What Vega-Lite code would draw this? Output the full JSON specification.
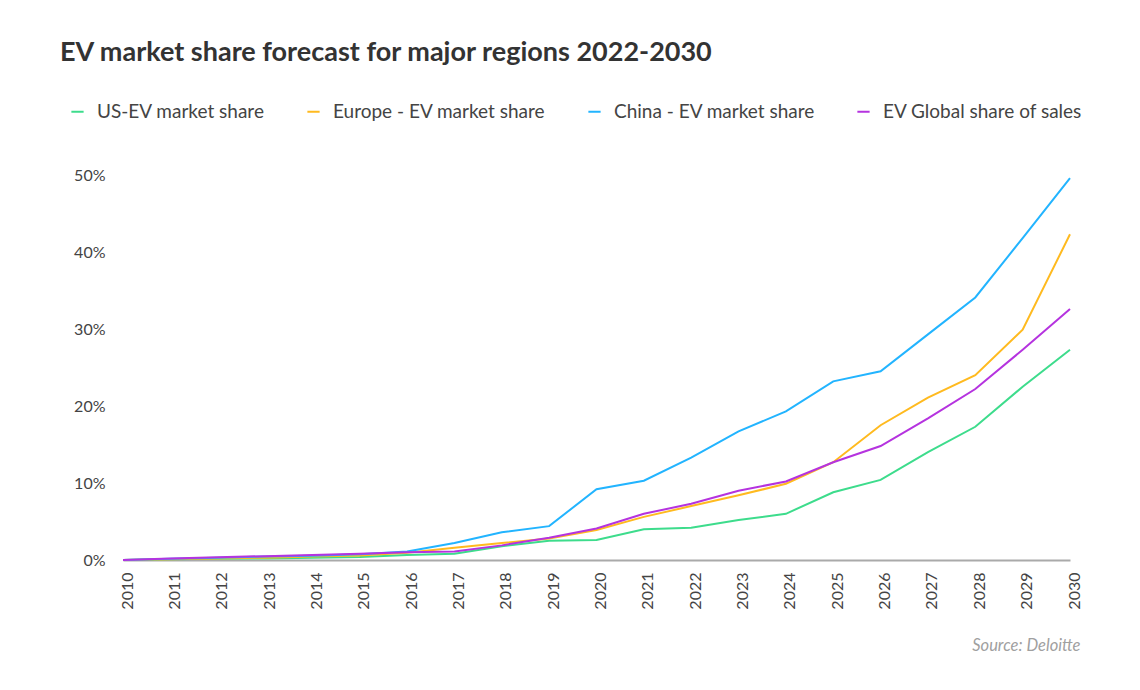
{
  "$schema": "https://vega.github.io/schema/vega-lite/v6.json",
  "width": 947,
  "height": 385,
  "autosize": {"type": "none"},
  "padding": {"left": 123, "top": 175, "right": 70, "bottom": 130},
  "background": "white",
  "config": {
    "font": "Lato",
    "view": {"stroke": null}
  },
  "title": {
    "text": "EV market share forecast for major regions 2022-2030",
    "anchor": "start",
    "frame": "group",
    "dx": -63,
    "fontSize": 27,
    "fontWeight": "bold",
    "color": "#333333",
    "offset": 35
  },
  "data": {
    "values": [
      {"year": 2010, "series": "US-EV market share", "value": 0},
      {"year": 2011, "series": "US-EV market share", "value": 0.1},
      {"year": 2012, "series": "US-EV market share", "value": 0.15},
      {"year": 2013, "series": "US-EV market share", "value": 0.2},
      {"year": 2014, "series": "US-EV market share", "value": 0.3},
      {"year": 2015, "series": "US-EV market share", "value": 0.4},
      {"year": 2016, "series": "US-EV market share", "value": 0.65},
      {"year": 2017, "series": "US-EV market share", "value": 0.8},
      {"year": 2018, "series": "US-EV market share", "value": 1.8},
      {"year": 2019, "series": "US-EV market share", "value": 2.5},
      {"year": 2020, "series": "US-EV market share", "value": 2.6},
      {"year": 2021, "series": "US-EV market share", "value": 4.0},
      {"year": 2022, "series": "US-EV market share", "value": 4.2},
      {"year": 2023, "series": "US-EV market share", "value": 5.2},
      {"year": 2024, "series": "US-EV market share", "value": 6.0},
      {"year": 2025, "series": "US-EV market share", "value": 8.8},
      {"year": 2026, "series": "US-EV market share", "value": 10.4},
      {"year": 2027, "series": "US-EV market share", "value": 14.0},
      {"year": 2028, "series": "US-EV market share", "value": 17.3},
      {"year": 2029, "series": "US-EV market share", "value": 22.5},
      {"year": 2030, "series": "US-EV market share", "value": 27.3},
      {"year": 2010, "series": "Europe - EV market share", "value": 0},
      {"year": 2011, "series": "Europe - EV market share", "value": 0.1},
      {"year": 2012, "series": "Europe - EV market share", "value": 0.2},
      {"year": 2013, "series": "Europe - EV market share", "value": 0.3},
      {"year": 2014, "series": "Europe - EV market share", "value": 0.45},
      {"year": 2015, "series": "Europe - EV market share", "value": 0.6},
      {"year": 2016, "series": "Europe - EV market share", "value": 0.95},
      {"year": 2017, "series": "Europe - EV market share", "value": 1.6},
      {"year": 2018, "series": "Europe - EV market share", "value": 2.2},
      {"year": 2019, "series": "Europe - EV market share", "value": 2.8},
      {"year": 2020, "series": "Europe - EV market share", "value": 3.9},
      {"year": 2021, "series": "Europe - EV market share", "value": 5.6},
      {"year": 2022, "series": "Europe - EV market share", "value": 7.0},
      {"year": 2023, "series": "Europe - EV market share", "value": 8.4},
      {"year": 2024, "series": "Europe - EV market share", "value": 9.9},
      {"year": 2025, "series": "Europe - EV market share", "value": 12.7},
      {"year": 2026, "series": "Europe - EV market share", "value": 17.5},
      {"year": 2027, "series": "Europe - EV market share", "value": 21.1},
      {"year": 2028, "series": "Europe - EV market share", "value": 24.0},
      {"year": 2029, "series": "Europe - EV market share", "value": 29.9},
      {"year": 2030, "series": "Europe - EV market share", "value": 42.3},
      {"year": 2010, "series": "China - EV market share", "value": 0},
      {"year": 2011, "series": "China - EV market share", "value": 0.15},
      {"year": 2012, "series": "China - EV market share", "value": 0.3},
      {"year": 2013, "series": "China - EV market share", "value": 0.45},
      {"year": 2014, "series": "China - EV market share", "value": 0.55},
      {"year": 2015, "series": "China - EV market share", "value": 0.75},
      {"year": 2016, "series": "China - EV market share", "value": 1.1},
      {"year": 2017, "series": "China - EV market share", "value": 2.2},
      {"year": 2018, "series": "China - EV market share", "value": 3.6},
      {"year": 2019, "series": "China - EV market share", "value": 4.4},
      {"year": 2020, "series": "China - EV market share", "value": 9.2},
      {"year": 2021, "series": "China - EV market share", "value": 10.3},
      {"year": 2022, "series": "China - EV market share", "value": 13.3},
      {"year": 2023, "series": "China - EV market share", "value": 16.7},
      {"year": 2024, "series": "China - EV market share", "value": 19.3},
      {"year": 2025, "series": "China - EV market share", "value": 23.2},
      {"year": 2026, "series": "China - EV market share", "value": 24.5},
      {"year": 2027, "series": "China - EV market share", "value": 29.3},
      {"year": 2028, "series": "China - EV market share", "value": 34.1},
      {"year": 2029, "series": "China - EV market share", "value": 41.8},
      {"year": 2030, "series": "China - EV market share", "value": 49.6},
      {"year": 2010, "series": "EV Global share  of sales", "value": 0},
      {"year": 2011, "series": "EV Global share  of sales", "value": 0.2},
      {"year": 2012, "series": "EV Global share  of sales", "value": 0.35},
      {"year": 2013, "series": "EV Global share  of sales", "value": 0.5},
      {"year": 2014, "series": "EV Global share  of sales", "value": 0.65},
      {"year": 2015, "series": "EV Global share  of sales", "value": 0.8},
      {"year": 2016, "series": "EV Global share  of sales", "value": 1.0},
      {"year": 2017, "series": "EV Global share  of sales", "value": 1.1},
      {"year": 2018, "series": "EV Global share  of sales", "value": 1.9},
      {"year": 2019, "series": "EV Global share  of sales", "value": 2.9},
      {"year": 2020, "series": "EV Global share  of sales", "value": 4.1},
      {"year": 2021, "series": "EV Global share  of sales", "value": 6.0},
      {"year": 2022, "series": "EV Global share  of sales", "value": 7.3},
      {"year": 2023, "series": "EV Global share  of sales", "value": 9.0},
      {"year": 2024, "series": "EV Global share  of sales", "value": 10.2},
      {"year": 2025, "series": "EV Global share  of sales", "value": 12.7},
      {"year": 2026, "series": "EV Global share  of sales", "value": 14.8},
      {"year": 2027, "series": "EV Global share  of sales", "value": 18.4},
      {"year": 2028, "series": "EV Global share  of sales", "value": 22.2},
      {"year": 2029, "series": "EV Global share  of sales", "value": 27.3},
      {"year": 2030, "series": "EV Global share  of sales", "value": 32.6}
    ]
  },
  "mark": {"type": "line", "strokeWidth": 2},
  "encoding": {
    "x": {
      "field": "year",
      "type": "quantitative",
      "scale": {"domain": [2010, 2030], "nice": false, "zero": false},
      "axis": {
        "values": [2010, 2011, 2012, 2013, 2014, 2015, 2016, 2017, 2018, 2019, 2020, 2021, 2022, 2023, 2024, 2025, 2026, 2027, 2028, 2029, 2030],
        "format": "d",
        "labelAngle": -90,
        "labelAlign": "right",
        "labelBaseline": "middle",
        "labelFontSize": 16,
        "labelColor": "#444444",
        "labelPadding": 12,
        "labelOffset": 4,
        "labelFlush": false,
        "labelOverlap": false,
        "ticks": false,
        "grid": false,
        "domainColor": "#aaaaaa",
        "domainWidth": 2,
        "title": "Source: Deloitte",
        "titleAnchor": "end",
        "titleAlign": "right",
        "titleX": 957,
        "titleFontStyle": "italic",
        "titleFontWeight": "normal",
        "titleFontSize": 16.5,
        "titleColor": "#a0a0a0",
        "titlePadding": 28
      }
    },
    "y": {
      "field": "value",
      "type": "quantitative",
      "scale": {"domain": [0, 50], "nice": false},
      "axis": {
        "values": [0, 10, 20, 30, 40, 50],
        "labelExpr": "datum.value + '%'",
        "labelFontSize": 16,
        "labelColor": "#444444",
        "labelPadding": 18,
        "ticks": false,
        "domain": false,
        "grid": false,
        "title": null
      }
    },
    "color": {
      "field": "series",
      "type": "nominal",
      "scale": {
        "domain": ["US-EV market share", "Europe - EV market share", "China - EV market share", "EV Global share  of sales"],
        "range": ["#3ddc8c", "#ffba1f", "#22b4ff", "#b533df"]
      },
      "legend": {
        "title": null,
        "orient": "none",
        "direction": "horizontal",
        "legendX": -55,
        "legendY": -73,
        "symbolType": "stroke",
        "symbolStrokeWidth": 2,
        "symbolSize": 150,
        "labelFontSize": 19,
        "labelLimit": 400,
        "labelColor": "#444444",
        "labelOffset": 10,
        "columnPadding": 38
      }
    }
  }
}
